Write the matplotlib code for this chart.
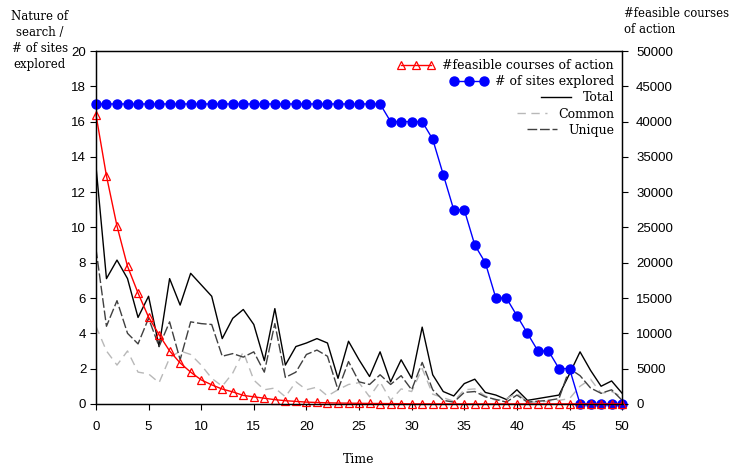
import numpy as np
import matplotlib
matplotlib.use("Agg")
import matplotlib.pyplot as plt

# datos
tiempo = np.arange(0, 51)

sitios = [17] * 28 + [16, 16, 16, 16, 15, 13, 11, 11, 9, 8, 6, 6, 5, 4, 3, 3, 2, 2,
                      0, 0, 0, 0, 0]

factibles = [41000, 32300, 25200, 19500, 15700, 12300, 9800, 7500, 5800, 4500,
             3400, 2700, 2100, 1700, 1200, 1000, 800, 600, 450, 350,
             250, 200, 150, 120, 100, 80, 60, 50, 40, 30,
             0, 0, 0, 0, 0, 0, 0, 0, 0, 0,
             0, 0, 0, 0, 0, 0, 0, 0, 0, 0, 0]

total = [13.5, 7.1, 8.15, 7.1, 4.9, 6.1, 3.25, 7.1, 5.6, 7.4,
         6.75, 6.1, 3.7, 4.85, 5.35, 4.5, 2.45, 5.4, 2.2, 3.25,
         3.45, 3.7, 3.45, 1.45, 3.55, 2.5, 1.55, 2.95, 1.25, 2.5,
         1.45, 4.35, 1.65, 0.7, 0.45, 1.15, 1.4, 0.65, 0.5, 0.25,
         0.8, 0.2, 0.3, 0.4, 0.5, 1.7, 2.95, 1.9, 1.0, 1.3, 0.6]

unico = [8.8, 4.4, 5.85, 4.0, 3.4, 4.85, 3.25, 4.65, 2.5, 4.65,
         4.55, 4.5, 2.7, 2.85, 2.65, 2.95, 1.8, 4.55, 1.5, 1.8,
         2.8, 3.05, 2.7, 0.8, 2.4, 1.25, 1.1, 1.65, 1.1, 1.6,
         0.8, 2.35, 0.8, 0.2, 0.1, 0.65, 0.7, 0.4, 0.25, 0.1,
         0.5, 0.1, 0.15, 0.2, 0.3, 2.0, 1.6, 0.9, 0.6, 0.8, 0.2]

comun = [4.4, 3.0, 2.2, 3.0, 1.8, 1.7, 1.2, 2.6, 3.0, 2.8,
         2.2, 1.45, 1.0, 1.75, 2.95, 1.35, 0.8, 0.9, 0.4, 1.25,
         0.8, 0.95, 0.45, 0.8, 1.1, 1.2, 0.4, 1.25, 0.2, 0.85,
         0.7, 2.0, 0.55, 0.35, 0.15, 0.8, 0.85, 0.45, 0.2, 0.3,
         0.6, 0.1, 0.1, 0.15, 0.2, 0.3, 1.0, 1.4, 0.6, 0.7, 0.4]

serif = "DejaVu Serif"
sans = "Liberation Sans"

fig = plt.figure(figsize=(7.38, 4.68), dpi=100)
ax = fig.add_axes([0.130, 0.137, 0.713, 0.754])

l_tot, = ax.plot(tiempo, total, color="black", lw=1.0, label="Total")
l_com, = ax.plot(tiempo, comun, color="#b8b8b8", lw=1.0, dashes=(6, 4), label="Common")
l_uni, = ax.plot(tiempo, unico, color="#404040", lw=1.0, dashes=(7, 2), label="Unique")
l_sit, = ax.plot(tiempo, sitios, color="#0000ff", lw=1.0, marker="o", ms=6.5,
                 mfc="#0000ff", mec="#0000ff", clip_on=False, zorder=3,
                 label="# of sites explored")

ax.set_xlim(0, 50)
ax.set_ylim(0, 20)
ax.set_xticks(range(0, 51, 5))
ax.set_yticks(range(0, 21, 2))

ax2 = ax.twinx()
l_fac, = ax2.plot(tiempo, factibles, color="#ff0000", lw=1.0, marker="^", ms=6,
                  mfc="none", mec="#ff0000", mew=0.9, clip_on=False,
                  label="#feasible courses of action")
ax2.set_ylim(0, 50000)
ax2.set_yticks(range(0, 50001, 5000))

for a in (ax, ax2):
    a.tick_params(direction="out", length=4, width=0.8, labelsize=9.5)
    for lab in a.get_xticklabels() + a.get_yticklabels():
        lab.set_fontfamily(sans)
    for s in a.spines.values():
        s.set_linewidth(0.9)

ax.tick_params(axis="x", pad=8)
ax.tick_params(axis="y", pad=3)
ax2.tick_params(axis="y", pad=6)

leg = ax2.legend(handles=[l_fac, l_sit, l_tot, l_com, l_uni], loc="upper right",
                 frameon=False, numpoints=3, handlelength=3.0, handletextpad=0.6,
                 labelspacing=0.25, borderaxespad=0.25,
                 prop={"family": serif, "size": 9})
# alinear los textos a la derecha
leg._legend_handle_box.get_children()[0].align = "right"

fig.text(0.054, 0.978, "Nature of\nsearch /\n# of sites\nexplored", ha="center",
         va="top", family=serif, fontsize=8.5, linespacing=1.3)
fig.text(0.846, 0.985, "#feasible courses\nof action", ha="left", va="top",
         family=serif, fontsize=8.4, linespacing=1.25)
fig.text(0.486, 0.004, "Time", ha="center", va="bottom", family=serif, fontsize=9)

plt.savefig("out.png", dpi=100)
